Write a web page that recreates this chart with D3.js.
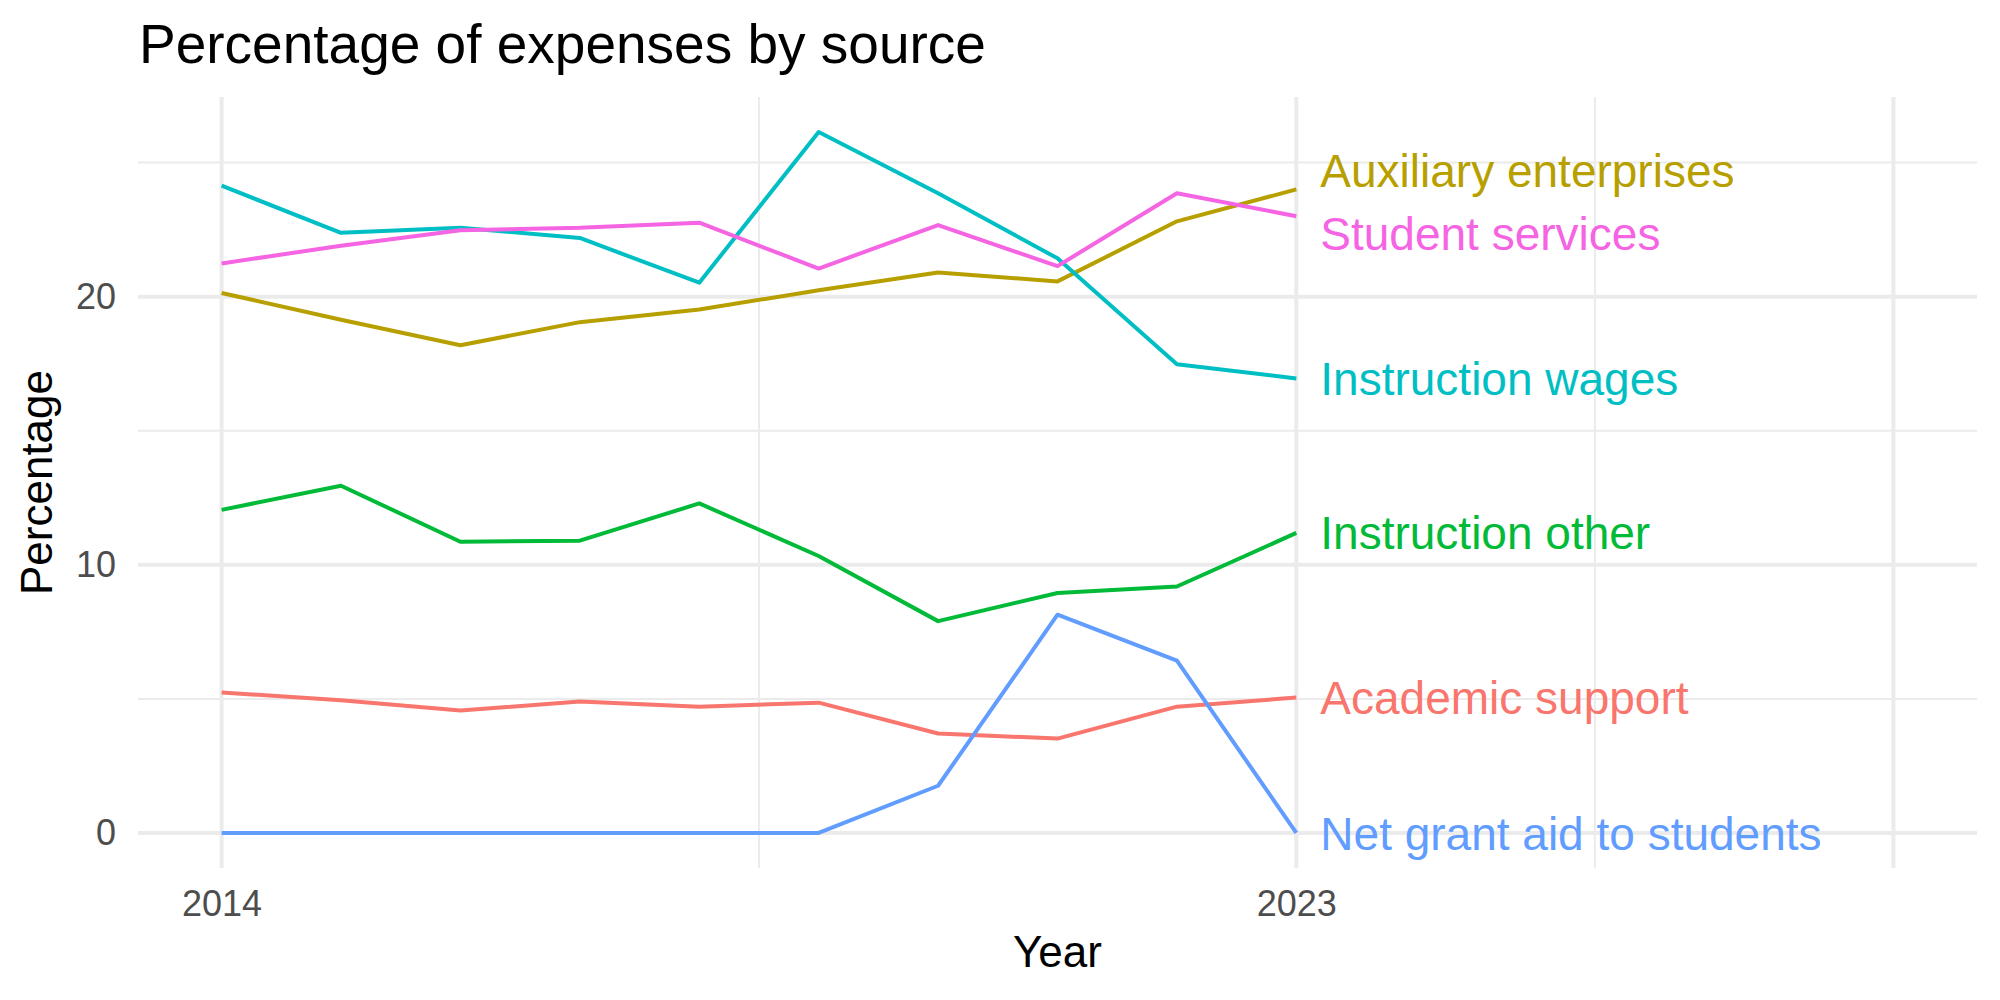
<!DOCTYPE html>
<html>
<head>
<meta charset="utf-8">
<script src="https://cdn.jsdelivr.net/npm/d3@7"></script>
<style>
  html, body { margin: 0; padding: 0; background: #fff; }
  svg { display: block; font-family: "Liberation Sans", Arial, sans-serif; }
</style>
</head>
<body>
<svg id="chart" width="2000" height="1000"></svg>
<script>
// Years on the x axis
const years = [2014, 2015, 2016, 2017, 2018, 2019, 2020, 2021, 2022, 2023];

// Series values (percent of expenses)
const academicSupport = [5.24, 4.95, 4.57, 4.90, 4.71, 4.86, 3.71, 3.52, 4.71, 5.05];
const auxiliaryEnterprises = [20.14, 19.14, 18.19, 19.05, 19.52, 20.24, 20.90, 20.57, 22.81, 24.00];
const instructionOther = [12.05, 12.95, 10.86, 10.90, 12.29, 10.33, 7.90, 8.95, 9.19, 11.19];
const instructionWages = [24.14, 22.38, 22.57, 22.19, 20.52, 26.14, 23.86, 21.43, 17.48, 16.95];
const netGrantAid = [0, 0, 0, 0, 0, 0, 1.76, 8.14, 6.43, 0];
const studentServices = [21.24, 21.90, 22.48, 22.57, 22.76, 21.05, 22.67, 21.14, 23.86, 23.00];

const seriesNames = ['Academic support', 'Auxiliary enterprises', 'Instruction other',
  'Instruction wages', 'Net grant aid to students', 'Student services'];
const seriesValues = [academicSupport, auxiliaryEnterprises, instructionOther,
  instructionWages, netGrantAid, studentServices];
const seriesColors = ['#F8766D', '#B79F00', '#00BA38', '#00BFC4', '#619CFF', '#F564E3'];

// End labels were pushed apart where they collide (values in %)
const labelValues = [5.05, 24.69, 11.19, 16.95, 0, 22.35];

// Axis breaks and tick labels
const xLimits = [2014, 2028];
const xBreaks = [2014, 2023, 2028];
const xTickLabels = ['2014', '2023', ''];
const yBreaks = [0, 10, 20];
const yTickLabels = ['0', '10', '20'];

/* Frame settings */
const panel = { left: 138, right: 1977, top: 97, bottom: 868 };
const gridColor = '#EBEBEB';

const svg = d3.select('#chart');

/* Scales with ggplot-like 5% expansion */
const xSpan = xLimits[1] - xLimits[0];
const xScale = d3.scaleLinear()
  .domain([xLimits[0] - 0.05 * xSpan, xLimits[1] + 0.05 * xSpan])
  .range([panel.left, panel.right]);

const yMax = d3.max(seriesValues, s => d3.max(s));
const yMin = 0;
const ySpan = yMax - yMin;
const yScale = d3.scaleLinear()
  .domain([yMin - 0.05 * ySpan, yMax + 0.05 * ySpan])
  .range([panel.bottom, panel.top]);

/* Minor breaks are the midpoints between major ones */
const mids = arr => arr.slice(1).map((v, i) => (v + arr[i]) / 2);
const yMinor = mids(yBreaks).concat([yBreaks[yBreaks.length - 1] + 5]);
const xMinor = mids(xBreaks);

const grid = svg.append('g');

grid.selectAll('line.ymin')
  .data(yMinor)
  .enter()
  .append('line')
  .attr('x1', panel.left)
  .attr('x2', panel.right)
  .attr('y1', d => yScale(d))
  .attr('y2', d => yScale(d))
  .attr('stroke', gridColor)
  .attr('stroke-width', 2);

grid.selectAll('line.xmin')
  .data(xMinor)
  .enter()
  .append('line')
  .attr('x1', d => xScale(d))
  .attr('x2', d => xScale(d))
  .attr('y1', panel.top)
  .attr('y2', panel.bottom)
  .attr('stroke', gridColor)
  .attr('stroke-width', 2);

grid.selectAll('line.ymaj')
  .data(yBreaks)
  .enter()
  .append('line')
  .attr('x1', panel.left)
  .attr('x2', panel.right)
  .attr('y1', d => yScale(d))
  .attr('y2', d => yScale(d))
  .attr('stroke', gridColor)
  .attr('stroke-width', 4);

grid.selectAll('line.xmaj')
  .data(xBreaks)
  .enter()
  .append('line')
  .attr('x1', d => xScale(d))
  .attr('x2', d => xScale(d))
  .attr('y1', panel.top)
  .attr('y2', panel.bottom)
  .attr('stroke', gridColor)
  .attr('stroke-width', 4);

/* Axes: ticks removed, only labels kept */
const xAxis = d3.axisBottom(xScale)
  .tickValues(xBreaks)
  .tickFormat((d, i) => xTickLabels[i])
  .tickSize(0)
  .tickPadding(12);

const yAxis = d3.axisLeft(yScale)
  .tickValues(yBreaks)
  .tickFormat((d, i) => yTickLabels[i])
  .tickSize(0)
  .tickPadding(22);

const xAxisG = svg.append('g')
  .attr('transform', `translate(0, ${panel.bottom + 10})`)
  .call(xAxis);
xAxisG.select('.domain').remove();
xAxisG.selectAll('text')
  .attr('font-size', 36)
  .attr('font-family', '"Liberation Sans", Arial, sans-serif')
  .attr('fill', '#4D4D4D');

const yAxisG = svg.append('g')
  .attr('transform', `translate(${panel.left}, 0)`)
  .call(yAxis);
yAxisG.select('.domain').remove();
yAxisG.selectAll('text')
  .attr('font-size', 36)
  .attr('font-family', '"Liberation Sans", Arial, sans-serif')
  .attr('fill', '#4D4D4D');

/* Lines */
const lineGen = d3.line()
  .x((d, i) => xScale(years[i]))
  .y(d => yScale(d));

svg.append('g')
  .selectAll('path')
  .data(seriesValues)
  .enter()
  .append('path')
  .attr('d', d => lineGen(d))
  .attr('fill', 'none')
  .attr('stroke', (d, i) => seriesColors[i])
  .attr('stroke-width', 4)
  .attr('stroke-linejoin', 'round');

/* End labels */
const lastYear = years[years.length - 1];
svg.append('g')
  .selectAll('text')
  .data(seriesNames)
  .enter()
  .append('text')
  .attr('x', xScale(lastYear) + 24)
  .attr('y', (d, i) => yScale(labelValues[i]))
  .attr('dy', '0.36em')
  .attr('font-size', 46)
  .attr('fill', (d, i) => seriesColors[i])
  .text(d => d);

/* Titles */
svg.append('text')
  .attr('x', panel.left + 1)
  .attr('y', 63)
  .attr('font-size', 55)
  .attr('fill', '#000')
  .text('Percentage of expenses by source');

svg.append('text')
  .attr('x', (panel.left + panel.right) / 2)
  .attr('y', 967)
  .attr('text-anchor', 'middle')
  .attr('font-size', 44)
  .attr('fill', '#000')
  .text('Year');

svg.append('text')
  .attr('transform', `translate(52, ${(panel.top + panel.bottom) / 2}) rotate(-90)`)
  .attr('text-anchor', 'middle')
  .attr('font-size', 44)
  .attr('fill', '#000')
  .text('Percentage');
</script>
</body>
</html>
